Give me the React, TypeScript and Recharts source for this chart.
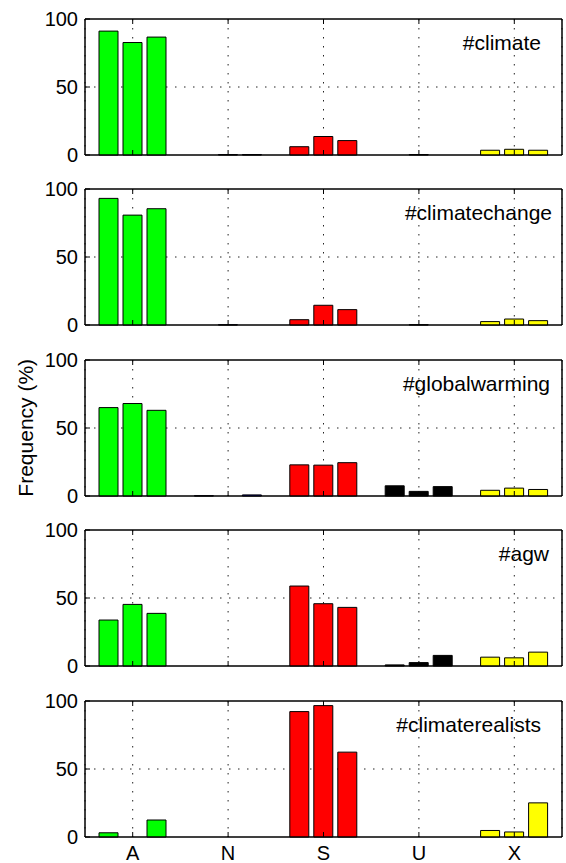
import { Bar, BarChart, CartesianGrid, Cell, ReferenceArea, XAxis, YAxis } from 'recharts';

const CATEGORIES = ['A', 'N', 'S', 'U', 'X'];
const CATEGORY_COLORS = ['#00ff00', '#0000ff', '#ff0000', '#000000', '#ffff00'];
const HASHTAGS = ['#climate', '#climatechange', '#globalwarming', '#agw', '#climaterealists'];
const Y_TICKS = [0, 50, 100];

// one row per bar within a category (three bars each), values in %
const CLIMATE = [
  [91.1, 0, 6.1, 0, 3.5],
  [82.7, 0.3, 13.6, 0.3, 4.2],
  [86.7, 0.3, 10.6, 0, 3.5],
];
const CLIMATECHANGE = [
  [93.1, 0, 3.9, 0, 2.5],
  [80.8, 0.2, 14.5, 0.2, 4.4],
  [85.5, 0, 11.3, 0, 3.2],
];
const GLOBALWARMING = [
  [65.0, 0.2, 22.9, 7.5, 4.2],
  [68.0, 0, 22.7, 3.4, 5.8],
  [63.0, 0.8, 24.5, 6.9, 4.8],
];
const AGW = [
  [33.8, 0, 58.8, 0.8, 6.5],
  [45.3, 0, 45.8, 2.5, 6.0],
  [38.7, 0, 43.1, 7.8, 10.2],
];
const CLIMATEREALISTS = [
  [3.1, 0, 92.2, 0, 4.8],
  [0, 0, 96.6, 0, 3.7],
  [12.5, 0, 62.4, 0, 25.1],
];

const PANELS = [CLIMATE, CLIMATECHANGE, GLOBALWARMING, AGW, CLIMATEREALISTS];

const FONT = '"Liberation Sans", Arial, Helvetica, sans-serif';
const W = 566;
const PANEL_STEP = 170.4;
const PLOT_TOP = 19;
const PLOT_H = 136;
const PLOT_LEFT = 85;
const PLOT_RIGHT = 562;
const TITLE_RIGHT = [541, 552, 550, 549, 541];

function toRows(series: number[][]) {
  return CATEGORIES.map((cat, i) => ({
    cat,
    b1: series[0][i],
    b2: series[1][i],
    b3: series[2][i],
  }));
}

const blank = () => '';

function Panel({ index }: { index: number }) {
  const last = index === PANELS.length - 1;
  const data = toRows(PANELS[index]);
  const height = last ? 863 - Math.round(index * PANEL_STEP) : 170;
  const bottom = height - PLOT_TOP - PLOT_H;
  const line = { stroke: '#000', strokeWidth: 1 };
  const tickFont = { fontSize: 20, fill: '#000', fontFamily: FONT };

  return (
    <div style={{ position: 'absolute', left: 0, top: index * PANEL_STEP }}>
      <BarChart
        width={W}
        height={height}
        data={data}
        margin={{ top: PLOT_TOP - 1, right: W - PLOT_RIGHT - 1, bottom: bottom - 1, left: 0 }}
        barCategoryGap={14}
        barGap={5}
      >
        <CartesianGrid stroke="#222" strokeDasharray="1.5 7.5" horizontalValues={[50]} />
        <XAxis
          dataKey="cat"
          height={1}
          tickSize={-5}
          tickMargin={14}
          axisLine={line}
          tickLine={line}
          tick={tickFont}
          tickFormatter={last ? undefined : blank}
          interval={0}
        />
        <XAxis
          xAxisId="top"
          orientation="top"
          dataKey="cat"
          height={1}
          tickSize={-5}
          axisLine={line}
          tickLine={line}
          tickFormatter={blank}
          interval={0}
        />
        <YAxis
          width={PLOT_LEFT}
          domain={[0, 100]}
          ticks={Y_TICKS}
          tickSize={-5}
          tickMargin={12}
          axisLine={line}
          tickLine={line}
          tick={tickFont}
        />
        <YAxis
          yAxisId="right"
          orientation="right"
          width={1}
          domain={[0, 100]}
          ticks={Y_TICKS}
          tickSize={-5}
          axisLine={line}
          tickLine={line}
          tickFormatter={blank}
        />
        {['b1', 'b2', 'b3'].map((key) => (
          <Bar key={key} dataKey={key} stroke="#000" strokeWidth={1} isAnimationActive={false}>
            {data.map((row, i) => (
              <Cell key={row.cat} fill={CATEGORY_COLORS[i]} />
            ))}
          </Bar>
        ))}
        <ReferenceArea y1={0} y2={100} fill="none" stroke="#000" strokeWidth={1} />
      </BarChart>
    </div>
  );
}

export default function App() {
  const labelY = 2 * PANEL_STEP + PLOT_TOP + PLOT_H / 2;
  return (
    <div style={{ position: 'absolute', left: 0, top: 0, width: W, height: 863, background: '#fff' }}>
      {PANELS.map((_, i) => (
        <Panel key={HASHTAGS[i]} index={i} />
      ))}
      <svg
        width={W}
        height={863}
        style={{ position: 'absolute', left: 0, top: 0, pointerEvents: 'none' }}
      >
        {HASHTAGS.map((tag, i) => (
          <text
            key={tag}
            x={TITLE_RIGHT[i]}
            y={i * PANEL_STEP + PLOT_TOP + 31}
            textAnchor="end"
            fontSize={21}
            fontFamily={FONT}
            fill="#000"
          >
            {tag}
          </text>
        ))}
        <text
          transform={`translate(33, ${labelY}) rotate(-90)`}
          textAnchor="middle"
          fontSize={21}
          fontFamily={FONT}
          fill="#000"
        >
          Frequency (%)
        </text>
      </svg>
    </div>
  );
}
